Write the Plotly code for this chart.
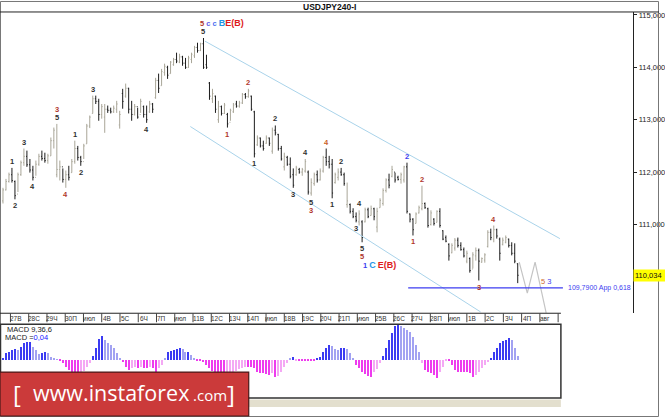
import plotly.graph_objects as go

# USDJPY H4 bars (price units)
bar_open = [111.45, 111.66, 111.82, 111.95, 111.82, 111.58, 111.95, 112.18, 112.30, 112.14,
            112.04, 111.90, 112.15, 112.30, 112.26, 112.22, 112.31, 112.60, 111.95, 112.05,
            112.10, 111.86, 111.95, 111.99, 112.20, 112.45, 112.28, 112.20, 112.54, 112.88,
            113.12, 113.40, 113.35, 113.10, 113.05, 113.20, 113.18, 113.15, 113.20, 112.90,
            113.50, 113.45, 113.60, 113.20, 113.10, 113.25, 113.10, 113.25, 113.10, 113.15,
            113.30, 113.42, 113.75, 113.65, 113.90, 114.00, 113.88, 114.05, 114.15, 114.10,
            114.20, 114.08, 114.00, 114.15, 114.22, 114.38, 114.32, 114.45, 114.05, 113.70,
            113.40, 113.45, 113.00, 113.25, 113.12, 113.10, 112.95, 113.15, 113.30, 113.26,
            113.32, 113.48, 113.44, 113.45, 113.15, 112.52, 112.65, 112.50, 112.55, 112.65,
            112.40, 112.80, 112.72, 112.45, 112.10, 112.28, 112.15, 111.95, 111.95, 112.05,
            112.00, 112.02, 112.00, 111.60, 111.78, 111.95, 111.85, 112.02, 112.28, 112.20,
            112.15, 111.80, 111.90, 112.00, 111.95, 111.38, 111.38, 111.25, 111.15, 111.05,
            111.05, 111.05, 111.28, 111.17, 111.30, 110.95, 111.32, 111.40, 111.65, 111.85,
            111.92, 112.00, 111.90, 111.86, 111.85, 112.10, 111.20, 111.10, 111.02, 111.22,
            111.30, 111.40, 111.30, 111.00, 111.10, 111.04, 111.25, 110.88, 110.75, 110.62,
            110.46, 110.55, 110.70, 110.60, 110.52, 110.30, 110.35, 110.15, 110.40, 110.50,
            110.28, 110.32, 110.58, 110.85, 110.72, 110.90, 110.72, 110.62, 110.66, 110.72,
            110.60, 110.45, 110.25]
bar_high = [111.70, 111.87, 111.99, 112.08, 111.84, 111.99, 112.22, 112.45, 112.41, 112.25,
            112.12, 112.22, 112.35, 112.41, 112.37, 112.35, 112.66, 112.85, 112.92, 112.22,
            112.07, 112.03, 112.12, 112.25, 112.60, 112.50, 112.31, 112.54, 112.92, 113.08,
            113.46, 113.46, 113.40, 113.30, 113.30, 113.27, 113.23, 113.27, 113.36, 113.17,
            113.59, 113.69, 113.61, 113.36, 113.30, 113.23, 113.40, 113.27, 113.27, 113.36,
            113.32, 113.80, 113.88, 113.97, 114.07, 114.03, 114.12, 114.18, 114.28, 114.26,
            114.22, 114.18, 114.22, 114.28, 114.41, 114.47, 114.47, 114.56, 114.24, 113.72,
            113.59, 113.46, 113.36, 113.27, 113.32, 113.13, 113.21, 113.32, 113.36, 113.36,
            113.51, 113.51, 113.59, 113.46, 113.17, 112.70, 112.66, 112.60, 112.70, 112.66,
            112.85, 112.89, 112.73, 112.50, 112.37, 112.31, 112.28, 112.07, 112.12, 112.08,
            112.08, 112.25, 112.03, 111.88, 111.99, 112.03, 112.07, 112.31, 112.45, 112.31,
            112.25, 111.99, 112.07, 112.08, 111.99, 111.80, 111.40, 111.31, 111.23, 111.27,
            111.08, 111.32, 111.32, 111.36, 111.32, 111.32, 111.50, 111.69, 111.88, 111.97,
            112.12, 111.99, 111.93, 111.99, 112.12, 112.18, 111.21, 111.12, 111.23, 111.36,
            111.74, 111.42, 111.32, 111.27, 111.12, 111.27, 111.31, 110.89, 110.79, 110.64,
            110.64, 110.74, 110.75, 110.66, 110.56, 110.50, 110.37, 110.47, 110.56, 110.54,
            110.37, 110.45, 110.89, 110.92, 110.98, 110.92, 110.75, 110.75, 110.79, 110.73,
            110.66, 110.64, 110.26]
bar_low = [111.40, 111.65, 111.80, 111.80, 111.48, 111.62, 111.93, 112.12, 112.10, 111.99,
           111.84, 111.93, 112.12, 112.22, 112.18, 112.16, 112.31, 112.45, 111.90, 111.84,
           111.80, 111.70, 111.84, 111.99, 112.16, 112.22, 112.12, 112.25, 112.54, 112.84,
           113.12, 113.30, 112.98, 113.02, 112.75, 113.13, 113.12, 113.13, 113.13, 112.83,
           113.21, 113.42, 113.12, 112.98, 113.08, 113.02, 113.13, 113.04, 112.94, 113.13,
           113.13, 113.40, 113.51, 113.65, 113.84, 113.78, 113.88, 114.03, 114.08, 114.08,
           114.03, 113.97, 113.99, 114.08, 114.18, 114.28, 114.31, 113.97, 113.97, 113.38,
           113.32, 113.13, 112.94, 113.08, 113.11, 112.85, 112.98, 113.13, 113.23, 113.23,
           113.30, 113.40, 113.42, 113.17, 112.28, 112.50, 112.47, 112.41, 112.54, 112.50,
           112.35, 112.70, 112.41, 112.22, 112.03, 112.12, 111.88, 111.70, 111.93, 111.97,
           111.93, 111.99, 111.57, 111.55, 111.74, 111.80, 111.84, 111.99, 112.12, 112.07,
           111.50, 111.78, 111.84, 111.93, 111.74, 111.32, 111.21, 111.12, 111.04, 110.98,
           110.66, 111.04, 111.12, 111.17, 111.08, 110.85, 111.32, 111.36, 111.61, 111.69,
           111.90, 111.80, 111.84, 111.78, 111.80, 111.21, 111.04, 110.79, 111.02, 111.21,
           111.27, 111.30, 110.94, 110.98, 110.98, 111.04, 110.94, 110.70, 110.66, 110.31,
           110.45, 110.50, 110.56, 110.50, 110.37, 110.26, 110.08, 110.16, 110.31, 109.93,
           110.27, 110.27, 110.56, 110.70, 110.66, 110.73, 110.31, 110.60, 110.64, 110.56,
           110.41, 110.26, 109.88]
bar_close = [111.66, 111.82, 111.95, 111.84, 111.55, 111.95, 112.18, 112.30, 112.14, 112.04,
             111.90, 112.15, 112.30, 112.26, 112.22, 112.31, 112.60, 112.80, 112.05, 112.10,
             111.86, 111.95, 111.90, 112.20, 112.45, 112.28, 112.20, 112.50, 112.88, 113.05,
             113.40, 113.35, 113.10, 113.25, 113.20, 113.18, 113.15, 113.22, 113.30, 113.10,
             113.35, 113.60, 113.20, 113.10, 113.25, 113.05, 113.35, 113.10, 113.00, 113.30,
             113.20, 113.75, 113.60, 113.92, 114.02, 113.85, 114.10, 114.15, 114.12, 114.20,
             114.08, 114.00, 114.18, 114.25, 114.38, 114.32, 114.45, 114.00, 114.00, 113.45,
             113.50, 113.20, 113.25, 113.12, 113.28, 112.92, 113.18, 113.28, 113.26, 113.32,
             113.48, 113.44, 113.55, 113.20, 112.35, 112.65, 112.50, 112.45, 112.65, 112.55,
             112.80, 112.75, 112.45, 112.25, 112.30, 112.15, 111.92, 111.75, 112.08, 112.00,
             112.05, 112.20, 111.62, 111.80, 111.95, 111.85, 112.02, 112.28, 112.20, 112.15,
             111.60, 111.95, 112.00, 111.95, 111.78, 111.45, 111.25, 111.15, 111.08, 111.20,
             110.75, 111.28, 111.15, 111.30, 111.15, 111.25, 111.46, 111.65, 111.85, 111.75,
             112.05, 111.85, 111.86, 111.95, 112.10, 111.25, 111.10, 110.90, 111.20, 111.32,
             111.40, 111.32, 110.98, 111.22, 111.02, 111.25, 110.98, 110.72, 110.68, 110.40,
             110.60, 110.70, 110.60, 110.52, 110.40, 110.45, 110.12, 110.42, 110.50, 110.30,
             110.35, 110.42, 110.85, 110.75, 110.90, 110.78, 110.45, 110.70, 110.75, 110.60,
             110.45, 110.30, 110.03]

# MACD(9,36,6) histogram
macd_hist = [0.02, 0.07, 0.08, 0.10, 0.11, 0.10, 0.13, 0.17, 0.18, 0.18,
             0.13, 0.10, 0.06, 0.07, 0.08, 0.07, 0.03, 0.01, 0.005, -0.01,
             -0.03, -0.07, -0.10, -0.13, -0.15, -0.15, -0.14, -0.11, -0.07, -0.03,
             0.04, 0.12, 0.21, 0.24, 0.20, 0.17, 0.15, 0.12, 0.07, 0.02,
             -0.02, -0.07, -0.10, -0.08, -0.07, -0.08, -0.07, -0.08, -0.08, -0.07,
             -0.08, -0.12, -0.08, -0.05, 0.01, 0.08, 0.09, 0.10, 0.11, 0.12,
             0.11, 0.08, 0.08, 0.05, 0.01, -0.01, -0.01, -0.02, -0.05, -0.08,
             -0.11, -0.13, -0.15, -0.16, -0.16, -0.15, -0.14, -0.13, -0.11, -0.09,
             -0.08, -0.07, -0.07, -0.07, -0.08, -0.12, -0.13, -0.13, -0.14, -0.15,
             -0.13, -0.17, -0.16, -0.12, -0.07, -0.03, 0.02, 0.03, -0.01, -0.01,
             -0.01, -0.01, -0.01, -0.01, -0.01, 0.02, 0.03, 0.08, 0.12, 0.15,
             0.14, 0.11, 0.10, 0.12, 0.12, 0.11, 0.07, 0.02, -0.05, -0.08,
             -0.12, -0.14, -0.16, -0.17, -0.12, -0.09, -0.03, 0.04, 0.12, 0.20,
             0.27, 0.34, 0.35, 0.34, 0.32, 0.30, 0.28, 0.23, 0.15, 0.08,
             -0.03, -0.10, -0.12, -0.13, -0.15, -0.18, -0.12, -0.07, -0.01, -0.01,
             -0.05, -0.10, -0.12, -0.12, -0.12, -0.12, -0.13, -0.17, -0.15, -0.12,
             -0.08, -0.05, -0.02, 0.02, 0.08, 0.12, 0.17, 0.19, 0.20, 0.22,
             0.20, 0.12, 0.04]

date_labels = ["27В", "28С", "29Ч", "30П", "июл", "4В", "5С", "6Ч", "7П", "июл",
               "11В", "12С", "13Ч", "14П", "июл", "18В", "19С", "20Ч", "21П", "июл",
               "25В", "26С", "27Ч", "28П", "июл", "1В", "2С", "3Ч", "4П", "авг", "8"]

price_ticks = [111, 112, 113, 114, 115]
price_tick_text = ["111,000", "112,000", "113,000", "114,000", "115,000"]
last_price = 110.034

# channel lines and forecast path (bar index, price)
upper_channel_x = [67.5, 186.1]
upper_channel_y = [114.50, 110.73]
lower_channel_x = [62.6, 159.6]
lower_channel_y = [112.87, 109.33]
forecast_x = [172.5, 175.2, 177.8, 181.5]
forecast_y = [110.28, 109.69, 110.28, 109.31]
target_x = [135.4, 187.1]
target_price = 109.79

# wave counts: bar, text, colour key, above/below, stack level
wave_bar = [3, 4, 7, 10, 18, 18, 21, 24, 26, 30, 48, 67, 82, 75, 91, 84, 97, 101,
            108, 103, 103, 110, 113, 118, 119, 120, 120, 135, 140, 137, 164, 159]
wave_text = ["1", "2", "3", "4", "5", "3", "4", "1", "2", "3", "4", "5", "2", "1", "2", "1", "3", "4",
             "4", "5", "3", "1", "2", "3", "4", "5", "5", "2", "2", "1", "4", "3"]
wave_color = ["k", "k", "k", "k", "k", "r", "r", "k", "k", "k", "k", "k", "r", "r", "k", "k", "k", "k",
              "o", "k", "r", "k", "k", "k", "k", "k", "r", "b", "r", "r", "r", "r"]
wave_side = ["hi", "lo", "hi", "lo", "hi", "hi", "lo", "hi", "lo", "hi", "lo", "hi", "hi", "lo", "hi", "lo", "lo", "hi",
             "hi", "lo", "lo", "lo", "hi", "lo", "hi", "lo", "lo", "hi", "hi", "lo", "hi", "lo"]
wave_level = [0, 0, 0, 0, 0, 1, 0, 0, 0, 0, 0, 0, 0, 0, 0, 0, 0, 0,
              0, 0, 1, 0, 0, 0, 0, 0, 1, 0, 0, 0, 0, 0]

W, H = 665, 417
PX_PER_BAR = 3.02
BARS_PER_DAY = 6.1
BLACK, GRAY = "#1c1c1c", "#a9a698"
BLUE, CYAN, RED = "#3c3cf0", "#1e96e6", "#dd1c1c"
COLORS = {"k": "#303030", "r": "#b0362c", "o": "#c8602a", "b": BLUE}
FONT = "Liberation Sans"


def fx(px):
    return px / W


def fy(py):
    return 1 - py / H


def bar_x(px):
    return (px - 3) / PX_PER_BAR


def note(px, py, text, size, color, anchor="left", family=FONT):
    # text placed in picture pixels
    return dict(x=fx(px), y=fy(py), xref="paper", yref="paper", xanchor=anchor, yanchor="middle",
                showarrow=False, text=text, borderpad=0, font=dict(family=family, size=size, color=color))


idx = list(range(len(bar_high)))

fig = go.Figure()

for cx, cy in [(upper_channel_x, upper_channel_y), (lower_channel_x, lower_channel_y)]:
    fig.add_trace(go.Scatter(x=cx, y=cy, mode="lines", line=dict(color="#a9d3ea", width=1),
                             hoverinfo="skip", showlegend=False))

fig.add_trace(go.Ohlc(x=idx, open=bar_open, high=bar_high, low=bar_low, close=bar_close,
                      increasing=dict(line=dict(color=GRAY, width=1)),
                      decreasing=dict(line=dict(color=BLACK, width=1)),
                      tickwidth=0.3, hoverinfo="skip", showlegend=False))

fig.add_trace(go.Scatter(x=forecast_x, y=forecast_y, mode="lines", line=dict(color="#c4c4c4", width=1.2),
                         hoverinfo="skip", showlegend=False))
fig.add_trace(go.Scatter(x=target_x, y=[target_price, target_price], mode="lines",
                         line=dict(color=BLUE, width=1.2), hoverinfo="skip", showlegend=False))

# MACD histogram, lighter shade when the bar shrinks
macd_colors = []
for i, v in enumerate(macd_hist):
    shrinking = i > 0 and abs(v) < abs(macd_hist[i - 1])
    if v >= 0:
        macd_colors.append("#a2a2f2" if shrinking else "#3b3bf2")
    else:
        macd_colors.append("#f4a8f4" if shrinking else "#ee3cee")
fig.add_trace(go.Bar(x=idx, y=macd_hist, marker=dict(color=macd_colors, line=dict(width=0)),
                     width=0.36, xaxis="x2", yaxis="y2", hoverinfo="skip", showlegend=False))

ann = []
for b, t, c, s, lv in zip(wave_bar, wave_text, wave_color, wave_side, wave_level):
    hi = s == "hi"
    ann.append(dict(x=b, y=bar_high[b] if hi else bar_low[b], xref="x", yref="y", text=f"<b>{t}</b>",
                    showarrow=False, font=dict(family=FONT, size=7.5, color=COLORS[c]),
                    xanchor="center", yanchor="bottom" if hi else "top",
                    yshift=(1 + 8 * lv) * (1 if hi else -1), borderpad=0))

top_row = (f"<span style='color:{COLORS['r']}'><b>5</b></span> <span style='color:#5c5ce8'><b>c</b></span> "
           f"<span style='color:#4a70f0'><b>c</b></span> <span style='color:{CYAN}; font-size:9px'><b>B</b></span>"
           f"<span style='color:{RED}; font-size:9px'><b>E(B)</b></span>")
ann.append(dict(x=67, y=bar_high[67], xref="x", yref="y", text=top_row, showarrow=False,
                font=dict(family=FONT, size=7.5), xanchor="left", xshift=-4, yanchor="bottom", yshift=9, borderpad=0))
low_row = (f"<span style='color:{BLUE}'><b>1</b></span> <span style='color:{CYAN}; font-size:9px'><b>C</b></span> "
           f"<span style='color:{RED}; font-size:9px'><b>E(B)</b></span>")
ann.append(dict(x=120, y=bar_low[120], xref="x", yref="y", text=low_row, showarrow=False,
                font=dict(family=FONT, size=7.5), xanchor="left", xshift=0, yanchor="top", yshift=-17, borderpad=0))

ann.append(dict(x=181.5, y=target_price, xref="x", yref="y", showarrow=False, xanchor="center",
                yanchor="bottom", yshift=0,
                text=f"<span style='color:#d06a30'>5</span> <span style='color:{BLUE}'>3</span>",
                font=dict(family=FONT, size=7.5)))
ann.append(dict(x=188, y=target_price, xref="x", yref="y", showarrow=False, xanchor="left", yanchor="middle",
                text="109,7900 App 0,618", font=dict(family=FONT, size=7, color=BLUE)))

# current price box
ann.append(dict(x=fx(639), y=last_price, xref="paper", yref="y", xanchor="left", yanchor="middle",
                showarrow=False, text="110,034 ", bgcolor="#ffff00", borderpad=1,
                font=dict(family=FONT, size=7.5, color="#111")))

ann.append(note(333, 6, "<b>USDJPY240-I</b>", 8.5, "#111", anchor="center"))

for k, lab in enumerate(date_labels):
    ann.append(dict(x=2.5 + BARS_PER_DAY * k + 1.8, y=fy(318.5), xref="x2", yref="paper", showarrow=False,
                    xanchor="center", yanchor="middle",
                    text=lab, font=dict(family=FONT, size=6.5, color="#333")))

ann.append(note(6, 329, "MACD 9,36,6", 7.5, "#222"))
ann.append(note(4, 337, "MACD =<span style='color:#2020ff'>0,04</span>", 7.5, "#222"))

# instaforex banner text
ann.append(note(17.5, 393, "[", 24, "white", anchor="center", family="Open Sans"))
ann.append(note(32, 392, "www.instaforex", 21.5, "white", family="Open Sans"))
ann.append(note(194, 395, ".com", 15, "white", family="Open Sans"))
ann.append(note(233, 393, "]", 24, "white", anchor="center", family="Open Sans"))

shapes = [
    dict(type="rect", xref="paper", yref="paper", x0=fx(0.5), x1=fx(664.5), y0=fy(416.5), y1=fy(0.5),
         line=dict(color="#777", width=1)),
    dict(type="line", xref="paper", yref="paper", x0=0, x1=1, y0=fy(11), y1=fy(11),
         line=dict(color="#222", width=1)),
    dict(type="line", xref="paper", yref="paper", x0=0, x1=fx(566), y0=fy(313), y1=fy(313),
         line=dict(color="#222", width=1)),
    dict(type="rect", xref="paper", yref="paper", x0=fx(0.5), x1=fx(566), y0=fy(398), y1=fy(324),
         line=dict(color="#333", width=1.5)),
    dict(type="rect", xref="paper", yref="paper", x0=0, x1=fx(566), y0=fy(407), y1=fy(399.5),
         fillcolor="#e3dfce", line=dict(width=0)),
    dict(type="rect", xref="paper", yref="paper", x0=0, x1=fx(251), y0=fy(416), y1=fy(372),
         fillcolor="#cb3a3a", line=dict(color="#4a1818", width=1.2)),
]
for k in range(len(date_labels)):
    b = 2.5 + BARS_PER_DAY * k
    shapes.append(dict(type="line", xref="x2", yref="paper", x0=b, x1=b, y0=fy(313), y1=fy(322),
                       line=dict(color="#444", width=1)))

fig.update_layout(
    width=W, height=H,
    margin=dict(l=0, r=0, t=0, b=0),
    paper_bgcolor="white", plot_bgcolor="white",
    showlegend=False,
    bargap=0,
    xaxis=dict(domain=[0, fx(639)], range=[bar_x(0), bar_x(639)], anchor="y",
               showticklabels=False, showgrid=False, zeroline=False, showline=False,
               rangeslider=dict(visible=False), fixedrange=True),
    yaxis=dict(domain=[fy(313), fy(11)], range=[109.305, 115.057], anchor="x", side="right",
               tickvals=price_ticks, ticktext=price_tick_text, ticks="outside", ticklen=3,
               tickcolor="#222", showline=True, linecolor="#222", linewidth=1,
               showgrid=False, zeroline=False, fixedrange=True,
               tickfont=dict(family=FONT, size=7.5, color="#222")),
    xaxis2=dict(domain=[0, fx(566)], range=[bar_x(0), bar_x(566)], anchor="y2",
                showticklabels=False, showgrid=False, zeroline=False, showline=False, fixedrange=True),
    yaxis2=dict(domain=[fy(398), fy(324)], range=[-0.38, 0.36], anchor="x2",
                showticklabels=False, showgrid=False, zeroline=False, showline=False, fixedrange=True),
    annotations=ann,
    shapes=shapes,
)

# the page must not add its own margin around the 665x417 figure
fig.write_html("out.html", config={"displayModeBar": False},
               post_script="document.body.style.margin='0';document.body.style.overflow='hidden';")
